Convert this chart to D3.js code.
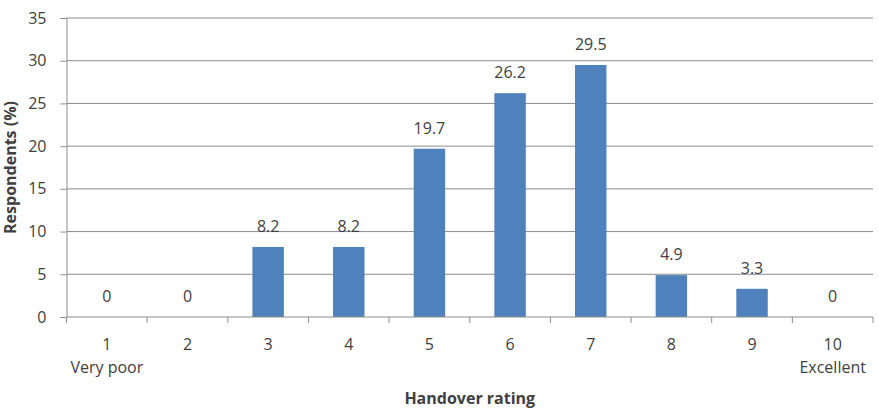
<!DOCTYPE html>
<html>
<head>
<meta charset="utf-8">
<script src="https://cdn.jsdelivr.net/npm/d3@7"></script>
<style>
  body { margin: 0; background: #fff; }
  text { font-family: "Open Sans", Lato, sans-serif; fill: #404040; }
</style>
</head>
<body>
<svg id="chart" width="879" height="412"></svg>
<script>
var ratings = ["1", "2", "3", "4", "5", "6", "7", "8", "9", "10"],
    rating_notes = ["Very poor", "", "", "", "", "", "", "", "", "Excellent"],
    respondents = [0, 0, 8.2, 8.2, 19.7, 26.2, 29.5, 4.9, 3.3, 0],
    y_ticks = [0, 5, 10, 15, 20, 25, 30, 35]
;

var svg = d3.select("#chart"),
    plot_left = 66.5, plot_right = 873, plot_top = 18, plot_bottom = 317,
    font_size = "16px",
    x = d3.scaleBand().domain(ratings).range([plot_left, plot_right]).paddingInner(0.61).paddingOuter(0.305),
    xTicks = d3.scaleBand().domain(ratings).range([plot_left, plot_right]),
    y = d3.scaleLinear().domain([0, 35]).range([plot_bottom, plot_top])
;

// gridlines
svg.append("g")
    .selectAll("line")
    .data(y_ticks.filter(t => t > 0))
    .enter().append("line")
    .attr("x1", plot_left).attr("x2", plot_right)
    .attr("y1", d => y(d)).attr("y2", d => y(d))
    .attr("stroke", "#8c8c8c").attr("stroke-width", 1)
;

// y axis
var yAxis = svg.append("g")
    .attr("transform", "translate(" + plot_left + ",0)")
    .call(d3.axisLeft(y).tickValues(y_ticks).tickSize(6).tickPadding(14));
yAxis.select(".domain").attr("stroke", "#8c8c8c");
yAxis.selectAll(".tick line").attr("stroke", "#8c8c8c");
yAxis.selectAll(".tick text").attr("font-size", font_size).attr("fill", "#404040")
    .attr("font-family", "'Open Sans', Lato, sans-serif");

// bars
svg.append("g")
    .selectAll("rect")
    .data(respondents)
    .enter().append("rect")
    .attr("x", (d, i) => x(ratings[i]))
    .attr("y", d => y(d))
    .attr("width", x.bandwidth())
    .attr("height", d => y(0) - y(d))
    .attr("fill", "#4f81bd")
;

// value labels
svg.append("g")
    .selectAll("text")
    .data(respondents)
    .enter().append("text")
    .attr("x", (d, i) => x(ratings[i]) + x.bandwidth() / 2)
    .attr("y", d => y(d) - 15)
    .attr("text-anchor", "middle")
    .attr("font-size", font_size)
    .text(d => d)
;

// x axis
svg.append("line")
    .attr("x1", plot_left).attr("x2", plot_right)
    .attr("y1", plot_bottom).attr("y2", plot_bottom)
    .attr("stroke", "#8c8c8c");
svg.append("g")
    .selectAll("line")
    .data(ratings.concat(["end"]))
    .enter().append("line")
    .attr("x1", (d, i) => i < ratings.length ? xTicks(d) : plot_right)
    .attr("x2", (d, i) => i < ratings.length ? xTicks(d) : plot_right)
    .attr("y1", plot_bottom).attr("y2", plot_bottom + 6)
    .attr("stroke", "#8c8c8c");

var xl = svg.append("g")
    .selectAll("text")
    .data(ratings)
    .enter().append("text")
    .attr("x", d => xTicks(d) + xTicks.bandwidth() / 2)
    .attr("y", 350)
    .attr("text-anchor", "middle")
    .attr("font-size", font_size);
xl.append("tspan").text(d => d);
xl.append("tspan")
    .attr("x", d => xTicks(d) + xTicks.bandwidth() / 2)
    .attr("dy", 23)
    .text((d, i) => rating_notes[i]);

// axis titles
svg.append("text")
    .attr("x", (plot_left + plot_right) / 2)
    .attr("y", 404)
    .attr("text-anchor", "middle")
    .attr("font-size", font_size)
    .attr("font-weight", "bold")
    .text("Handover rating");

svg.append("text")
    .attr("transform", "translate(16," + ((plot_top + plot_bottom) / 2) + ") rotate(-90)")
    .attr("text-anchor", "middle")
    .attr("font-size", font_size)
    .attr("font-weight", "bold")
    .text("Respondents (%)");
</script>
</body>
</html>
